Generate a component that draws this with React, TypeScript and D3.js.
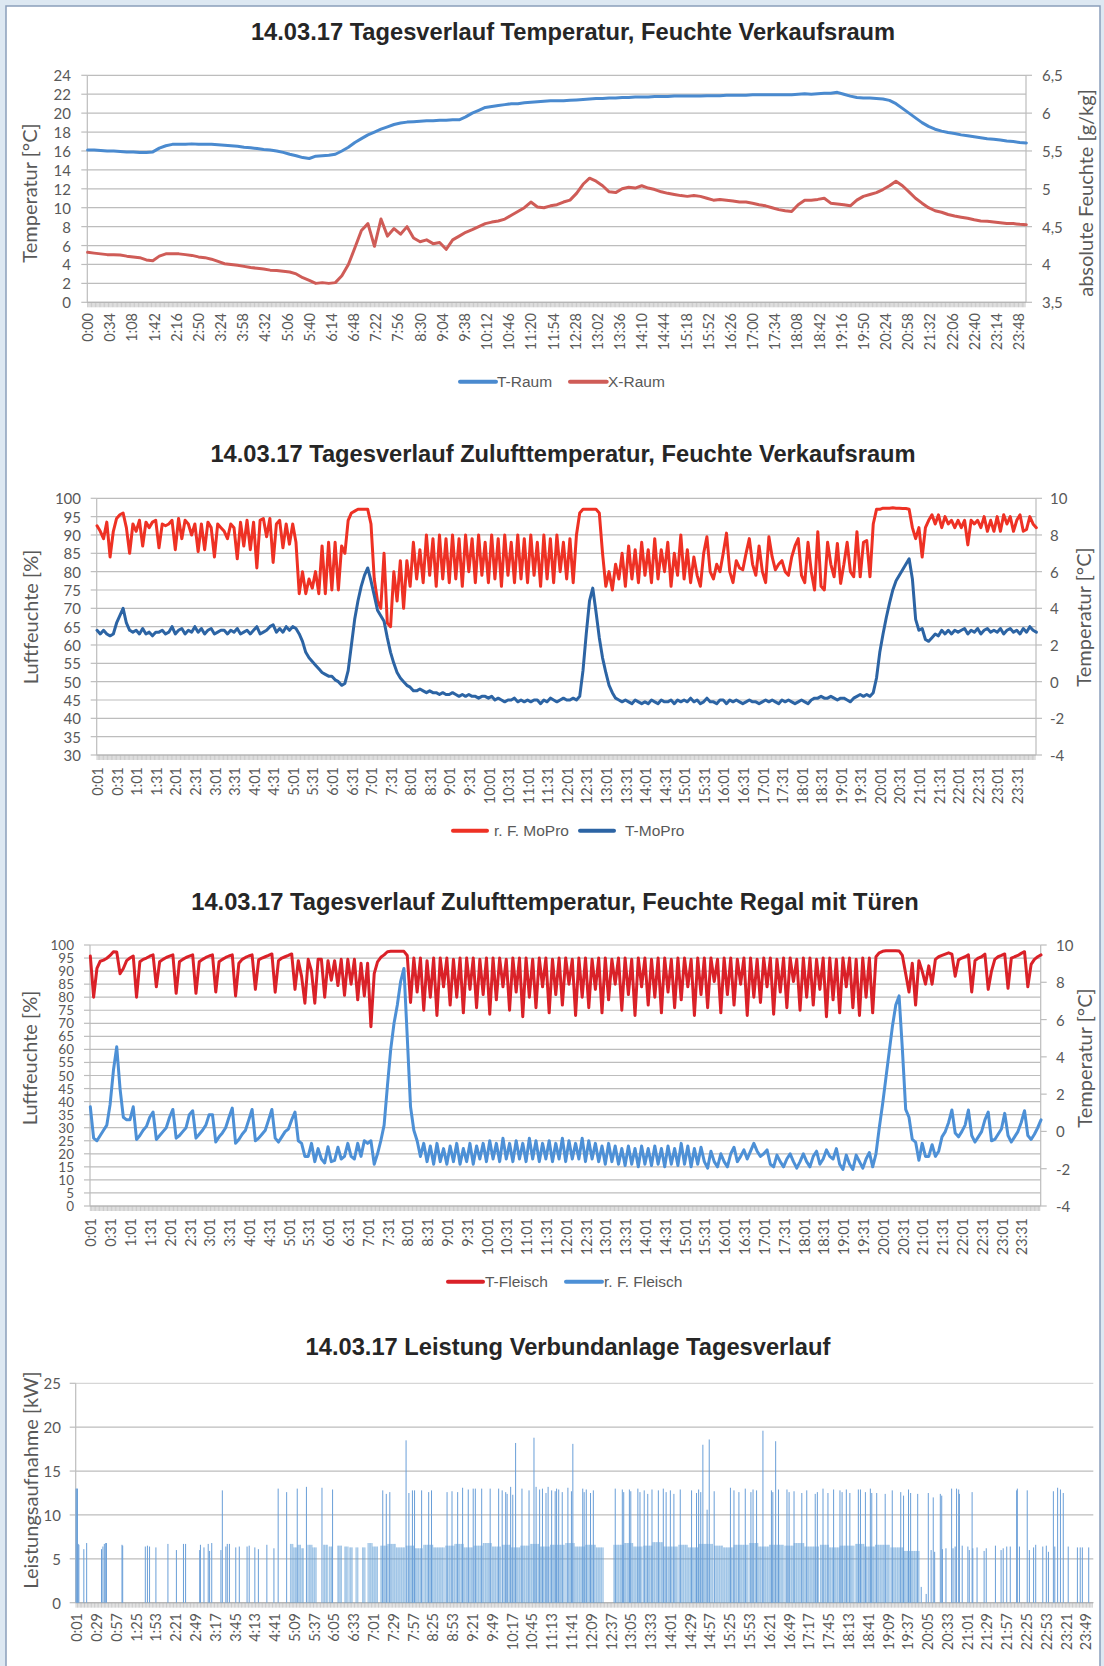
import React from 'react';
import * as d3 from 'd3';

// ---------- tick labels ----------
const P1_TIME_LABELS = ['0:00','0:34','1:08','1:42','2:16','2:50','3:24','3:58','4:32','5:06','5:40','6:14','6:48','7:22','7:56','8:30','9:04','9:38','10:12','10:46','11:20','11:54','12:28','13:02','13:36','14:10','14:44','15:18','15:52','16:26','17:00','17:34','18:08','18:42','19:16','19:50','20:24','20:58','21:32','22:06','22:40','23:14','23:48'];
const P23_TIME_LABELS = ['0:01','0:31','1:01','1:31','2:01','2:31','3:01','3:31','4:01','4:31','5:01','5:31','6:01','6:31','7:01','7:31','8:01','8:31','9:01','9:31','10:01','10:31','11:01','11:31','12:01','12:31','13:01','13:31','14:01','14:31','15:01','15:31','16:01','16:31','17:01','17:31','18:01','18:31','19:01','19:31','20:01','20:31','21:01','21:31','22:01','22:31','23:01','23:31'];
const P4_TIME_LABELS = ['0:01','0:29','0:57','1:25','1:53','2:21','2:49','3:17','3:45','4:13','4:41','5:09','5:37','6:05','6:33','7:01','7:29','7:57','8:25','8:53','9:21','9:49','10:17','10:45','11:13','11:41','12:09','12:37','13:05','13:33','14:01','14:29','14:57','15:25','15:53','16:21','16:49','17:17','17:45','18:13','18:41','19:09','19:37','20:05','20:33','21:01','21:29','21:57','22:25','22:53','23:21','23:49'];

const P1_LEFT_TICKS = [0,2,4,6,8,10,12,14,16,18,20,22,24];
const P1_RIGHT_TICKS = [3.5,4,4.5,5,5.5,6,6.5];
const P2_LEFT_TICKS = [30,35,40,45,50,55,60,65,70,75,80,85,90,95,100];
const P2_RIGHT_TICKS = [-4,-2,0,2,4,6,8,10];
const P3_LEFT_TICKS = [0,5,10,15,20,25,30,35,40,45,50,55,60,65,70,75,80,85,90,95,100];
const P3_RIGHT_TICKS = [-4,-2,0,2,4,6,8,10];
const P4_TICKS = [0,5,10,15,20,25];

// ---------- data ----------
// Panel 1: every 10 minutes, 0:00 .. 24:00
const P1_STEP = 10;
const T_RAUM = [
16.1,16.1,16.05,16.0,16.0,15.95,
15.9,15.9,15.85,15.85,15.9,16.3,
16.55,16.7,16.7,16.7,16.75,16.7,
16.7,16.7,16.65,16.6,16.55,16.5,
16.4,16.35,16.25,16.15,16.1,16.0,
15.85,15.65,15.5,15.3,15.2,15.45,
15.5,15.55,15.65,16.0,16.4,16.9,
17.3,17.7,18.0,18.3,18.55,18.8,
18.95,19.05,19.1,19.15,19.2,19.2,
19.25,19.25,19.3,19.3,19.6,20.0,
20.3,20.6,20.7,20.8,20.9,21.0,
21.0,21.1,21.15,21.2,21.25,21.3,
21.3,21.3,21.35,21.4,21.45,21.5,
21.55,21.55,21.6,21.6,21.65,21.65,
21.7,21.7,21.7,21.75,21.75,21.75,
21.8,21.8,21.8,21.8,21.8,21.85,
21.85,21.85,21.9,21.9,21.9,21.9,
21.95,21.95,21.95,21.95,21.95,21.95,
21.95,22.0,22.05,22.0,22.05,22.1,
22.1,22.2,22.0,21.8,21.65,21.6,
21.6,21.55,21.5,21.35,21.0,20.5,
20.0,19.5,19.0,18.6,18.3,18.1,
17.95,17.85,17.7,17.6,17.5,17.4,
17.3,17.25,17.15,17.05,17.0,16.9,16.85];
const X_RAUM = [
4.16,4.15,4.14,4.13,4.13,4.125,
4.11,4.10,4.09,4.06,4.05,4.11,
4.14,4.14,4.14,4.13,4.12,4.10,
4.09,4.07,4.04,4.01,4.0,3.99,
3.975,3.96,3.95,3.94,3.925,3.92,
3.91,3.90,3.875,3.825,3.79,3.75,
3.76,3.75,3.76,3.85,4.0,4.22,
4.45,4.54,4.24,4.6,4.375,4.475,
4.4,4.5,4.35,4.3,4.325,4.275,
4.29,4.2,4.325,4.375,4.425,4.46,
4.5,4.54,4.56,4.575,4.6,4.65,
4.7,4.75,4.825,4.76,4.75,4.775,
4.79,4.825,4.85,4.94,5.06,5.14,
5.1,5.04,4.96,4.95,5.0,5.02,
5.01,5.04,5.01,4.99,4.96,4.94,
4.925,4.91,4.9,4.91,4.9,4.875,
4.85,4.86,4.85,4.84,4.825,4.825,
4.81,4.79,4.775,4.75,4.725,4.71,
4.7,4.79,4.85,4.85,4.86,4.875,
4.81,4.8,4.79,4.775,4.85,4.9,
4.925,4.95,4.99,5.04,5.1,5.04,
4.96,4.875,4.81,4.75,4.71,4.69,
4.66,4.64,4.625,4.61,4.59,4.575,
4.57,4.56,4.55,4.54,4.54,4.53,4.525];

// Panels 2 and 3: every 5 minutes, 0:00 .. 24:00
const P23_STEP = 5;
const RF_MOPRO = [
92.5,91,89,93.5,84,91,94.5,95.5,96,92,85,93,
91,94,87,93.5,92,93.5,94,86.5,93,92.5,93,94,
86,94.5,89,94,93,90,93,85.5,93,86,93.5,92,
84,93,92,91,89,93,92,83.5,93.5,87,94,86,
93.5,81,94,94.5,89.5,94.5,82.5,93,94,86.5,93,87.5,
93,88,74,80,74,78,75.5,80,74,87,74,88,
75,88,75,87,85,94,96,96.5,97,97,97,97,
93,78,72,70,85,66,65,80,72,83,70,83,
76,88,78,86,77,90,79,89,76,90,78,89,
77,90,78,89,76,90,80,89,77,90,79,88,
77,90,78,89,76,90,79,88,77,90,78,89,
77,90,79,88,76,90,78,89,77,90,80,88,
78,89,77,90,96,97,97,97,97,97,96,85,
76,80,75,82,78,85,76,87,78,86,77,88,
79,86,77,89,78,86,80,88,76,85,79,90,
78,86,77,84,79,76,85,89.5,80,78,82,80,
85,90.5,80,77,83,81,80.5,85,89,82,79,87,
80,77,89.5,84,80.5,82,83,80,79,84,87,89,
79,77,88,80,75,90.9,76,75,88,82,78.6,87.7,
76.8,82,88,80,78.6,90.9,78.6,88,88.5,78.6,93,97,
97,97.3,97.3,97.3,97.4,97.3,97.3,97.2,97.2,97,92,89,
92,84,92,94,95.5,93,95.5,92,95,93,94,92,
94,92,94,87.3,94,93,94,92,95,91,94,91,
95,91,95.5,93,95,91,94,95.5,91,91.5,95,93,92];
const T_MOPRO = [
2.8,2.6,2.8,2.6,2.5,2.6,3.2,3.6,4.0,3.2,2.8,2.7,
2.8,2.6,2.9,2.6,2.7,2.5,2.7,2.7,2.8,2.6,2.7,3.0,
2.6,2.8,2.9,2.6,2.8,2.7,3.0,2.7,2.9,2.6,2.8,2.9,
2.6,2.7,2.8,2.8,2.6,2.8,2.7,2.9,2.6,2.7,2.8,2.6,
2.8,3.0,2.6,2.7,2.8,3.0,3.1,2.7,2.9,2.7,3.0,2.8,
3.0,2.9,2.6,2.2,1.6,1.3,1.1,0.9,0.7,0.5,0.4,0.3,
0.3,0.1,0.0,-0.2,-0.1,0.6,2.0,3.4,4.4,5.2,5.8,6.2,
5.5,4.7,3.9,3.6,3.3,2.4,1.6,1.0,0.5,0.2,0.0,-0.2,
-0.3,-0.5,-0.5,-0.4,-0.5,-0.6,-0.5,-0.6,-0.6,-0.7,-0.6,-0.7,
-0.7,-0.6,-0.7,-0.8,-0.7,-0.8,-0.7,-0.8,-0.8,-0.9,-0.8,-0.8,
-0.9,-0.8,-1.0,-0.9,-1.0,-1.1,-1.0,-1.0,-0.9,-1.1,-1.0,-1.1,
-1.0,-1.1,-1.0,-1.0,-1.2,-1.0,-1.1,-0.9,-1.0,-1.1,-1.0,-0.9,
-1.0,-1.0,-0.9,-1.0,-0.8,0.6,2.6,4.4,5.1,3.8,2.4,1.3,
0.5,-0.2,-0.6,-0.9,-1.0,-1.1,-1.0,-1.1,-1.2,-1.0,-1.1,-1.2,
-1.1,-1.2,-1.0,-1.1,-1.2,-1.0,-1.1,-1.1,-1.0,-1.2,-1.0,-1.1,
-1.0,-1.1,-0.9,-1.1,-1.0,-1.2,-1.1,-0.9,-1.1,-1.1,-1.2,-1.0,
-1.0,-1.2,-1.0,-1.1,-1.0,-1.1,-1.2,-1.1,-1.0,-1.1,-1.1,-1.2,
-1.1,-1.0,-1.1,-1.0,-1.1,-1.2,-1.0,-1.1,-1.0,-1.1,-1.2,-1.1,
-1.0,-1.1,-1.2,-1.0,-0.9,-0.9,-0.8,-0.9,-0.9,-0.8,-0.9,-1.0,
-0.9,-0.9,-1.0,-1.1,-0.9,-0.8,-0.7,-0.8,-0.7,-0.8,-0.6,0.2,
1.6,2.6,3.5,4.3,5.0,5.5,5.8,6.1,6.4,6.7,5.6,3.4,
2.8,2.9,2.3,2.2,2.4,2.6,2.5,2.8,2.6,2.8,2.6,2.8,
2.7,2.8,2.9,2.6,2.8,2.7,2.9,2.6,2.8,2.9,2.7,2.8,
2.7,2.9,2.6,2.8,2.9,2.7,2.8,2.6,2.9,2.7,3.0,2.8,2.7];
const T_FLEISCH = [
9.41,7.2,8.74,9.13,9.19,9.29,9.44,9.64,9.62,8.46,8.74,9.16,
9.3,9.41,7.2,9.1,9.23,9.3,9.4,9.47,7.76,9.1,9.23,9.33,
9.4,9.47,7.41,9.1,9.23,9.33,9.4,9.47,7.41,9.1,9.23,9.33,
9.41,9.47,7.48,9.1,9.23,9.33,9.41,9.47,7.27,9.02,9.23,9.33,
9.41,9.47,7.62,9.2,9.3,9.37,9.44,9.52,7.47,9.16,9.3,9.37,
9.44,9.52,7.62,9.16,8.32,6.88,9.23,8.6,6.88,9.23,9.23,7.2,
9.16,8.11,9.16,7.83,9.23,7.3,9.23,7.9,9.23,7.06,9.02,7.27,
9.02,5.62,8.46,9.1,9.34,9.47,9.64,9.66,9.66,9.66,9.66,9.66,
9.44,6.92,9.3,7.48,9.3,6.5,9.16,7.2,9.3,6.22,9.3,7.76,
9.3,6.78,9.23,7.2,9.3,6.36,9.3,7.62,9.3,6.64,9.23,7.34,
9.3,6.29,9.3,7.06,9.3,7.76,9.23,6.5,9.3,7.48,9.3,6.15,
9.3,7.2,9.23,6.64,9.3,7.76,9.3,6.36,9.23,7.34,9.3,6.78,
9.3,7.9,9.23,6.22,9.3,7.2,9.3,6.64,9.23,7.62,9.3,6.36,
9.3,7.06,9.23,7.9,9.3,6.5,9.3,7.34,9.23,6.22,9.3,7.76,
9.3,6.78,9.23,7.2,9.3,6.36,9.3,7.48,9.23,6.64,9.3,7.06,
9.3,7.76,9.23,6.22,9.3,7.34,9.3,6.64,9.3,8.04,9.23,6.36,
9.3,7.34,9.3,6.78,9.23,7.9,9.3,6.22,9.3,7.2,9.23,6.92,
9.3,7.76,9.3,6.29,9.23,7.48,9.3,6.64,9.3,8.04,9.23,6.5,
9.3,7.2,9.3,6.78,9.23,7.62,9.3,6.15,9.3,7.06,9.23,6.36,
9.3,7.76,9.3,6.64,9.23,6.22,9.3,7.2,9.3,6.36,9.37,9.58,
9.66,9.69,9.69,9.69,9.69,9.68,9.44,8.46,7.48,9.02,6.78,9.16,
8.6,7.9,8.88,7.9,9.23,9.37,9.44,9.51,9.58,9.51,8.32,9.2,
9.3,9.37,9.47,7.48,9.16,9.3,9.37,9.51,7.62,8.6,9.23,9.37,
9.44,9.52,7.68,9.29,9.37,9.44,9.55,9.64,7.76,8.96,9.23,9.37,9.47];
const RF_FLEISCH = [
38,26,25,27,29,31,39,52,61,45,34,33,
33,38,25.5,27,29,30.5,34,36,25.5,27,28.5,30,
34,37,26,27,28.5,30,35,36.5,26,27.5,29,31,
35,35,24.5,26.5,28,30,34,37.5,24,25.5,27.5,29,
33,37,25,26,27.5,29,33,37,26,24.5,26.5,28.5,
29.5,33,36,25,24,19,19,24,17,22,18,16.5,
22.7,17,17.5,22.5,18,19,24,19,18,24,19,25,
24,25,16,20,25,31,46,60,70,77,86,91,
65,38,29,25,19,24,17,23,16,24,17,22,
16,23,17,24,16,22,17,24,16,23,18,24,
17,25,18,24,17,26,18,24,17,25,18,24,
17,26,18,25,17,24,18,25,17,24,18,26,
17,25,18,24,18,26,17,25,18,24,17,23,
16,24,17,23,16,22,15.5,23,16,22,15,23,
16,22,15.5,23,16,22,15,23,16,22,15.5,24,
16,23,15,22,16,22.5,17,14.5,21,17,15,20,
17,15,20,22.5,17,19,21.5,18,21,24,21,19,
20,21.5,16,15,19.5,17,15,18,20,17,14.5,17,
20,17,15,19,21,16,18,21.5,19,18,22,16,
14,19.5,16,14,19.5,17,14.5,18,20.5,15,20,30,
39,49,59,69,77,80.5,60,37,34,25.5,24.5,17.5,
24,19,19,23.5,19,21,26.5,28.5,32,36.8,28,26.5,
28.5,31,36.8,27,24.5,26.5,28.5,33,36,25,25.5,27.5,
29.5,35.5,27,24.5,26.5,28.5,32,36.5,27,25.5,27.5,30,33];

// Panel 4: compressor power. Runs of continuous base-stage operation [from, to, kW] (minutes)
const P4_RUNS = [
[303,307,6.7],[308,312,6.3],[314,318,6.6],[319,322,6.2],[328,334,6.6],[335,340,6.3],[350,356,6.6],[358,363,6.4],[370,376,6.5],[380,385,6.4],[387,391,6.3],[396,399,6.3],[405,409,6.3],
[413,419,6.8],[420,427,6.4],[431,440,6.5],[441,452,6.7],[453,465,6.3],[467,478,6.5],[479,490,6.2],[492,505,6.6],[506,521,6.3],[523,535,6.5],[536,548,6.7],[549,561,6.3],
[563,575,6.5],[576,588,6.8],[589,601,6.4],[603,615,6.6],[616,628,6.3],[629,641,6.5],[643,655,6.7],[656,670,6.4],[671,691,6.6],[693,705,6.8],[706,720,6.4],[721,735,6.6],[736,746,6.3],
[761,775,6.6],[776,788,6.8],[789,801,6.4],[803,815,6.5],[816,830,6.9],[831,851,6.4],[853,865,6.6],[866,880,6.3],[881,901,6.7],[903,915,6.5],[916,930,6.3],[931,951,6.6],
[953,965,6.8],[966,980,6.4],[981,1001,6.6],[1003,1015,6.5],[1016,1030,6.8],[1031,1051,6.4],[1053,1065,6.6],[1066,1080,6.3],[1081,1101,6.5],[1103,1115,6.7],[1116,1130,6.4],[1131,1151,6.6],[1153,1170,6.3],[1171,1193,5.9]];
// Single-minute bars [minute, kW]
const P4_BARS = [
[0,13.0],[1,13.0],[2,13.0],[3,6.7],[4,6.6],[11,6.1],[15,6.8],[36,6.1],[38,6.4],[40,6.7],[42,6.8],[43,6.8],[65,6.6],[66,6.5],[98,6.4],[101,6.5],[104,6.4],[113,6.3],[130,6.7],[142,6.0],[152,6.7],[155,6.7],[175,6.0],[176,6.6],[181,6.3],[187,6.7],[189,5.9],[192,6.8],[205,6.0],[207,12.8],[212,6.4],[214,6.7],[217,6.7],[226,6.3],[231,6.4],[242,6.4],[245,6.5],[253,6.3],[258,6.1],[270,6.6],[280,6.2],[286,13.0],[298,12.6],
[313,13.0],[326,13.2],[348,13.1],[363,12.9],[434,12.8],[439,12.4],[444,12.6],[467,18.5],[471,12.5],[476,12.8],[479,12.8],[489,12.8],[499,12.6],[503,12.8],[525,12.6],[532,12.7],[540,12.6],[547,13.1],[555,12.9],[562,13.0],[565,13.0],[574,13.0],[586,13.0],[598,13.0],[603,12.8],[608,12.6],[610,12.4],[615,13.2],[618,12.3],[622,18.2],[631,13.0],[641,12.8],[648,18.8],[651,13.2],[656,12.9],[660,13.0],[665,12.5],[668,13.2],[673,12.8],[678,12.7],[680,13.0],[683,12.9],[688,12.6],[696,13.1],[701,12.7],[703,18.1],[717,13.0],[719,12.6],[722,12.9],[728,12.5],[732,12.8],
[763,13.0],[773,12.9],[775,12.6],[783,12.9],[785,12.7],[795,13.0],[798,12.6],[804,12.8],[809,12.4],[815,12.9],[824,12.8],[831,13.0],[835,12.6],[841,12.8],[846,12.4],[855,12.9],[871,12.8],[878,12.5],[881,12.9],[884,12.6],[887,18.0],[893,10.6],[896,18.6],[903,12.7],[926,13.1],[931,12.8],[938,12.6],[947,13.0],[955,12.6],[958,12.9],[963,12.8],[972,19.6],[984,12.8],[986,12.6],[990,18.4],[994,12.9],[1006,12.9],[1009,12.6],[1016,12.7],[1027,12.5],[1034,12.8],[1046,12.4],[1049,12.6],[1057,13.0],[1064,12.5],[1072,12.9],[1081,12.8],[1084,12.6],[1090,12.9],[1095,12.5],[1107,12.9],[1110,12.9],[1117,12.6],[1124,13.0],[1126,12.5],[1133,12.5],[1145,12.4],[1155,12.8],[1167,12.6],[1171,12.2],[1178,12.9],[1181,12.5],[1191,12.4],
[1196,1.8],[1203,1.0],[1206,12.5],[1210,6.0],[1213,12.0],[1215,5.8],[1223,12.4],[1225,12.2],[1226,6.1],[1231,6.2],[1239,13.0],[1241,6.2],[1244,6.4],[1246,13.0],[1249,12.9],[1250,12.4],[1254,6.5],[1262,6.4],[1264,6.0],[1268,12.6],[1269,6.2],[1275,6.3],[1285,5.9],[1288,6.2],[1301,6.5],[1309,6.0],[1312,6.2],[1317,6.4],[1322,6.4],[1331,12.8],[1332,13.0],[1335,6.4],[1346,12.8],[1349,6.0],[1355,6.3],[1358,6.6],[1368,6.4],[1373,6.5],[1376,5.8],[1383,12.7],[1385,6.4],[1389,13.1],[1393,12.9],[1397,12.5],[1404,6.4],[1417,6.3],[1421,6.3],[1424,6.3],[1433,6.3]];

// ---------- rendering ----------
const FONT_AX = "Lato, 'Open Sans', sans-serif";
const FONT_TXT = "'Liberation Sans', Arial, sans-serif";
const GRAY = '#595959';

function toMin(s: string): number {
  const [h, m] = s.split(':').map(Number);
  return h * 60 + m;
}

type Series = { values: number[]; step: number; axis: 'L' | 'R'; color: string; width: number };
type LegendItem = { label: string; color: string; x1: number; x2: number; tx: number };

function Panel(props: any) {
  const c = props.c;
  const x = d3.scaleLinear().domain([-0.5, 1439.5]).range([c.left, c.right]);
  const yL = d3.scaleLinear().domain(c.lDomain).range([c.bottom, c.top]);
  const yR = c.rDomain ? d3.scaleLinear().domain(c.rDomain).range([c.bottom, c.top]) : yL;
  const minor = d3.range(0, 1440, 2);
  const fmtR = c.fmtR || ((v: number) => String(v));
  const lFont = c.lFont || 15;
  return (
    <g>
      <text x={c.titleX} y={c.titleY} textAnchor="middle" fontFamily={FONT_TXT} fontWeight="bold" fontSize={23.7} fill="#262626">{c.title}</text>
      {c.lTicks.map((v: number) => (
        <line key={'g' + v} x1={c.left} x2={c.right} y1={yL(v)} y2={yL(v)} stroke={v === c.lTicks[c.lTicks.length - 1] && c.lightTop ? '#d6d6d6' : '#bdbdbd'} strokeWidth={1.2} />
      ))}
      {c.lTicks.map((v: number) => (
        <line key={'lt' + v} x1={c.left - 6} x2={c.left} y1={yL(v)} y2={yL(v)} stroke="#bdbdbd" strokeWidth={1.2} />
      ))}
      <line x1={c.left} x2={c.left} y1={c.top} y2={c.bottom} stroke="#bdbdbd" strokeWidth={1.2} />
      {c.rDomain && <line x1={c.right} x2={c.right} y1={c.top} y2={c.bottom} stroke="#bdbdbd" strokeWidth={1.2} />}
      {c.rDomain && c.rTicks.map((v: number) => (
        <line key={'rt' + v} x1={c.right} x2={c.right + 6} y1={yR(v)} y2={yR(v)} stroke="#bdbdbd" strokeWidth={1.2} />
      ))}
      {minor.map((m: number) => (
        <line key={'m' + m} x1={x(m)} x2={x(m)} y1={c.bottom} y2={c.bottom + 5} stroke="#a8a8a8" strokeWidth={0.6} />
      ))}
      <line x1={c.left} x2={c.right} y1={c.bottom} y2={c.bottom} stroke="#b5b5b5" strokeWidth={1.2} />
      {c.bars && c.bars(x, yL)}
      {(c.series || []).map((s: Series, i: number) => {
        const y = s.axis === 'L' ? yL : yR;
        const line = d3.line<number>().x((_, k) => x(k * s.step)).y((d) => y(d));
        return <path key={'s' + i} d={line(s.values) || ''} fill="none" stroke={s.color} strokeWidth={s.width} strokeLinejoin="round" strokeLinecap="round" />;
      })}
      {c.lTicks.map((v: number) => (
        <text key={'ll' + v} x={c.lLabelX} y={yL(v)} textAnchor="end" dominantBaseline="central" fontFamily={FONT_AX} fontSize={lFont} fill={GRAY}>{v}</text>
      ))}
      {c.rDomain && c.rTicks.map((v: number) => (
        <text key={'rl' + v} x={c.rLabelX} y={yR(v)} textAnchor="start" dominantBaseline="central" fontFamily={FONT_AX} fontSize={15} fill={GRAY}>{fmtR(v)}</text>
      ))}
      {c.timeLabels.map((s: string) => (
        <text key={'t' + s} transform={`translate(${x(toMin(s))},${c.labelTop}) rotate(-90)`} textAnchor="end" dominantBaseline="central" fontFamily={FONT_AX} fontSize={14.5} fill={GRAY}>{s}</text>
      ))}
      <text transform={`translate(${c.lTitleX},${c.lTitleY}) rotate(-90)`} textAnchor="middle" dominantBaseline="central" fontFamily={FONT_AX} fontSize={20} fill={GRAY}>{c.lTitle}</text>
      {c.rTitle && <text transform={`translate(${c.rTitleX},${c.rTitleY}) rotate(-90)`} textAnchor="middle" dominantBaseline="central" fontFamily={FONT_AX} fontSize={20} fill={GRAY}>{c.rTitle}</text>}
      {(c.legend || []).map((l: LegendItem) => (
        <g key={'lg' + l.label}>
          <line x1={l.x1} x2={l.x2} y1={c.legendY} y2={c.legendY} stroke={l.color} strokeWidth={4} strokeLinecap="round" />
          <text x={l.tx} y={c.legendY} dominantBaseline="central" fontFamily={FONT_TXT} fontSize={15.5} fill={GRAY}>{l.label}</text>
        </g>
      ))}
    </g>
  );
}

const comma = (v: number) => String(v).replace('.', ',');

function powerBars(x: any, y: any) {
  const out: any[] = [];
  P4_RUNS.forEach(([s, e, v], i) => {
    d3.range(s, e + 1).forEach((m) => {
      out.push(<rect key={`r${i}-${m}`} x={x(m) - 0.2} width={0.4} y={y(v)} height={y(0) - y(v)} fill="#5b9bd5" />);
    });
  });
  P4_BARS.forEach(([m, v], i) => {
    out.push(<rect key={`b${i}`} x={x(m) - 0.5} width={1} y={y(v)} height={y(0) - y(v)} fill="#6a9fd8" />);
  });
  return <g>{out}</g>;
}

export default function App() {
  const p1 = {
    title: '14.03.17 Tagesverlauf Temperatur, Feuchte Verkaufsraum', titleX: 573, titleY: 40,
    left: 87.3, right: 1026, top: 75.3, bottom: 302.3,
    lDomain: [0, 24], lTicks: P1_LEFT_TICKS, lLabelX: 71, lTitle: 'Temperatur [°C]', lTitleX: 29, lTitleY: 193,
    rDomain: [3.5, 6.5], rTicks: P1_RIGHT_TICKS, rLabelX: 1042, rTitle: 'absolute Feuchte [g/kg]', rTitleX: 1085, rTitleY: 193, fmtR: comma,
    timeLabels: P1_TIME_LABELS, labelTop: 313,
    series: [
      { values: T_RAUM, step: P1_STEP, axis: 'L', color: '#4a8acf', width: 3 },
      { values: X_RAUM, step: P1_STEP, axis: 'R', color: '#cf5c57', width: 3 },
    ],
    legendY: 381.7,
    legend: [
      { label: 'T-Raum', color: '#4a8acf', x1: 460, x2: 496, tx: 497 },
      { label: 'X-Raum', color: '#cf5c57', x1: 570, x2: 606.7, tx: 608 },
    ],
  };
  const p2 = {
    title: '14.03.17 Tagesverlauf Zulufttemperatur, Feuchte Verkaufsraum', titleX: 563, titleY: 462,
    left: 96.7, right: 1036, top: 498.3, bottom: 755,
    lDomain: [30, 100], lTicks: P2_LEFT_TICKS, lLabelX: 81, lTitle: 'Luftfeuchte [%]', lTitleX: 30, lTitleY: 617,
    rDomain: [-4, 10], rTicks: P2_RIGHT_TICKS, rLabelX: 1050, rTitle: 'Temperatur [°C]', rTitleX: 1083, rTitleY: 617,
    timeLabels: P23_TIME_LABELS, labelTop: 767,
    series: [
      { values: RF_MOPRO, step: P23_STEP, axis: 'L', color: '#ee3124', width: 3 },
      { values: T_MOPRO, step: P23_STEP, axis: 'R', color: '#2c64a4', width: 3 },
    ],
    legendY: 830.7,
    legend: [
      { label: 'r. F. MoPro', color: '#ee3124', x1: 453, x2: 487, tx: 494 },
      { label: 'T-MoPro', color: '#2c64a4', x1: 580, x2: 614, tx: 625 },
    ],
  };
  const p3 = {
    title: '14.03.17 Tagesverlauf Zulufttemperatur, Feuchte Regal mit Türen', titleX: 555, titleY: 910,
    left: 90, right: 1040.7, top: 945, bottom: 1206, lFont: 13.5,
    lDomain: [0, 100], lTicks: P3_LEFT_TICKS, lLabelX: 74, lTitle: 'Luftfeuchte [%]', lTitleX: 29, lTitleY: 1058,
    rDomain: [-4, 10], rTicks: P3_RIGHT_TICKS, rLabelX: 1056, rTitle: 'Temperatur [°C]', rTitleX: 1084, rTitleY: 1058,
    timeLabels: P23_TIME_LABELS, labelTop: 1218,
    series: [
      { values: RF_FLEISCH, step: P23_STEP, axis: 'L', color: '#4d90d6', width: 3 },
      { values: T_FLEISCH, step: P23_STEP, axis: 'R', color: '#da2128', width: 3 },
    ],
    legendY: 1281.7,
    legend: [
      { label: 'T-Fleisch', color: '#da2128', x1: 448, x2: 483, tx: 485 },
      { label: 'r. F. Fleisch', color: '#4d90d6', x1: 566, x2: 602, tx: 604 },
    ],
  };
  const p4 = {
    title: '14.03.17 Leistung Verbundanlage Tagesverlauf', titleX: 568, titleY: 1355,
    left: 75.7, right: 1093.3, top: 1383.3, bottom: 1602.7, lightTop: true,
    lDomain: [0, 25], lTicks: P4_TICKS, lLabelX: 61, lTitle: 'Leistungsaufnahme [kW]', lTitleX: 30, lTitleY: 1480,
    timeLabels: P4_TIME_LABELS, labelTop: 1613,
    bars: powerBars,
  };
  return (
    <div style={{ position: 'absolute', left: 0, top: 0, width: 1104, height: 1666, background: '#dde8f2', overflow: 'hidden' }}>
      <svg width={1104} height={1666} viewBox="0 0 1104 1666" style={{ display: 'block' }}>
        <rect x={6} y={6} width={1094} height={1700} fill="#ffffff" stroke="#8a9ebb" strokeWidth={1.5} />
        <Panel c={p1} />
        <Panel c={p2} />
        <Panel c={p3} />
        <Panel c={p4} />
      </svg>
    </div>
  );
}
